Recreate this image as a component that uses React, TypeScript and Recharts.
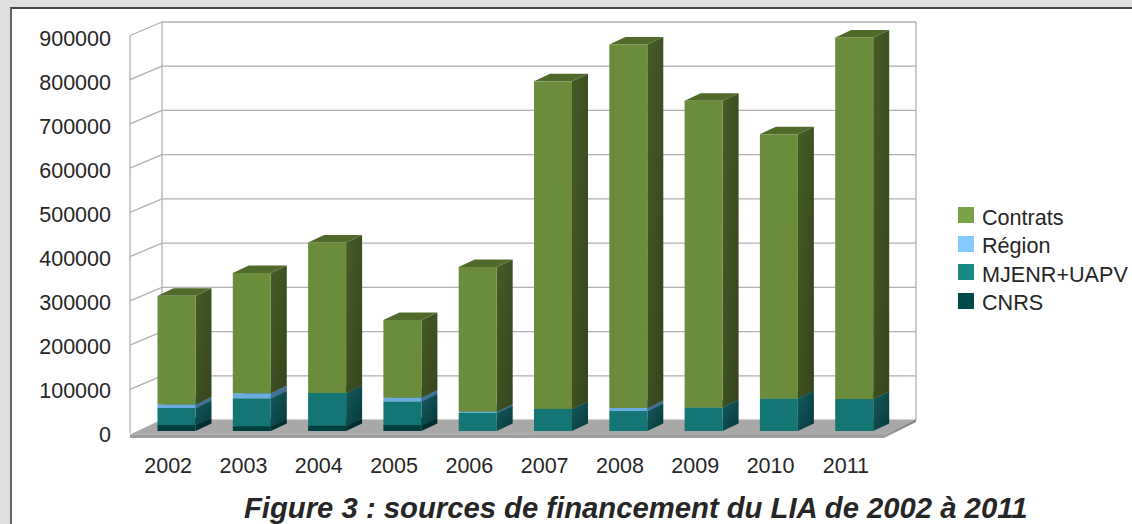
import React from "react";
import { BarChart, Bar, XAxis, YAxis, CartesianGrid } from "recharts";

const years = ["2002", "2003", "2004", "2005", "2006", "2007", "2008", "2009", "2010", "2011"];
const cnrs = [13500, 11000, 12000, 13500, 0, 0, 0, 0, 0, 0];
const mjenr = [38500, 63000, 74000, 53500, 40700, 50000, 45200, 53000, 73500, 72400];
const region = [8000, 11300, 0, 8300, 3000, 0, 6800, 0, 0, 0];
const contrats = [245600, 272000, 340500, 175700, 327300, 740700, 822000, 693700, 597500, 817600];
const yTicks = [0, 100000, 200000, 300000, 400000, 500000, 600000, 700000, 800000, 900000];
const title = "Figure 3 : sources de financement du LIA de 2002 à 2011";

const rows = years.map((year, i) => ({
  year,
  cnrs: cnrs[i],
  mjenr: mjenr[i],
  region: region[i],
  contrats: contrats[i],
}));

const FONT = "'Liberation Sans', Arial, sans-serif";
const TEXT = "#262626";
const GRID = "#b0b0b0";

const series = [
  { key: "cnrs", name: "CNRS", front: "#003f3f", top: "#002e2e", s1: "#023a3a", s2: "#002426", legend: "#004a4a" },
  { key: "mjenr", name: "MJENR+UAPV", front: "#147674", top: "#0f5a5a", s1: "#16595b", s2: "#053a3e", legend: "#178a88" },
  { key: "region", name: "Région", front: "#6bace0", top: "#5a8fbb", s1: "#4f7ea8", s2: "#365f85", legend: "#83caff" },
  { key: "contrats", name: "Contrats", front: "#6a8c3b", top: "#506a2c", s1: "#455c26", s2: "#35451c", legend: "#7aa346" },
];

// plane offsets between the bar plane and the box walls
const DEPTH_X = 16;
const DEPTH_Y = 7.5;
const WALL_LEFT = 130;
const WALL_BACK = 162;
const WALL_RIGHT = 916;
const FLOOR_FRONT_RIGHT = 884;

const gridLine = (p: any) => {
  const y = p.y1;
  const frontY = y + 2.5;
  const backY = y - 11;
  const isZero = p.index === 0 || Math.abs(y - 431) < 1;
  const isTop = y < 40;
  return (
    <g key={`wall-${y}`}>
      {!isZero && <line x1={WALL_LEFT} y1={frontY} x2={WALL_BACK} y2={backY} stroke={GRID} strokeWidth={1.3} />}
      {!isZero && <line x1={WALL_BACK} y1={backY} x2={WALL_RIGHT} y2={backY} stroke={GRID} strokeWidth={1.3} />}
      {isTop && <line x1={WALL_LEFT} y1={frontY} x2={WALL_LEFT} y2={frontY + 398} stroke={GRID} strokeWidth={1.3} />}
      {isTop && <line x1={WALL_BACK} y1={backY} x2={WALL_BACK} y2={backY + 398} stroke={GRID} strokeWidth={1.3} />}
      {isTop && <line x1={WALL_RIGHT} y1={backY} x2={WALL_RIGHT} y2={backY + 398} stroke={GRID} strokeWidth={1.3} />}
      {isZero && (
        <g>
          <polygon
            points={`${WALL_LEFT},${y + 3.5} ${WALL_BACK},${y - 11.5} ${WALL_RIGHT},${y - 11.5} ${FLOOR_FRONT_RIGHT},${y + 4}`}
            fill="#a8a8a8"
          />
          <polygon
            points={`${WALL_LEFT},${y + 3.5} ${FLOOR_FRONT_RIGHT},${y + 4} ${WALL_RIGHT},${y - 11.5} ${WALL_RIGHT},${y - 9} ${FLOOR_FRONT_RIGHT},${y + 7} ${WALL_LEFT},${y + 7}`}
            fill="url(#floorEdge)"
          />
        </g>
      )}
    </g>
  );
};

const box = (s: (typeof series)[number]) => (p: any) => {
  const { x, y, width, height } = p;
  if (!height || height <= 0) return <g />;
  const r = x + width;
  const b = y + height;
  return (
    <g>
      <polygon
        points={`${r},${y} ${r + DEPTH_X},${y - DEPTH_Y} ${r + DEPTH_X},${b - DEPTH_Y} ${r},${b}`}
        fill={`url(#side-${s.key})`}
      />
      <polygon
        points={`${x},${y} ${x + DEPTH_X},${y - DEPTH_Y} ${r + DEPTH_X},${y - DEPTH_Y} ${r},${y}`}
        fill={s.top}
      />
      <rect x={x} y={y} width={width} height={height} fill={s.front} />
    </g>
  );
};

const YTick = (p: any) => (
  <text
    x={111}
    y={p.y + 4 + ((431 - p.y) * 2) / 398}
    textAnchor="end"
    dominantBaseline="central"
    fontFamily={FONT}
    fontSize={21.5}
    fill={TEXT}
  >
    {p.payload.value}
  </text>
);

const XTick = (p: any) => (
  <text x={p.x - 8} y={466} textAnchor="middle" dominantBaseline="central" fontFamily={FONT} fontSize={21.5} fill={TEXT}>
    {p.payload.value}
  </text>
);

export default function App() {
  return (
    <div style={{ position: "absolute", left: 0, top: 0, width: 1132, height: 524, overflow: "hidden", background: "#dfdfdf" }}>
      <div
        style={{
          position: "absolute",
          left: 10,
          top: 7,
          width: 1122,
          height: 517,
          boxSizing: "border-box",
          background: "#fff",
          borderLeft: "2px solid #666",
          borderTop: "2px solid #444",
        }}
      />
      <div style={{ position: "absolute", left: 0, top: 0 }}>
        <BarChart
          width={1132}
          height={524}
          data={rows}
          margin={{ top: 33, right: 240.5, bottom: 0, left: 0 }}
          barSize={38}
          style={{ background: "transparent" }}
        >
          <defs>
            {series.map((s) => (
              <linearGradient key={s.key} id={`side-${s.key}`} x1="0" y1="0" x2="1" y2="1">
                <stop offset="0%" stopColor={s.s1} />
                <stop offset="100%" stopColor={s.s2} />
              </linearGradient>
            ))}
            <linearGradient id="floorEdge" x1="0" y1="0" x2="0" y2="1">
              <stop offset="0%" stopColor="#7a7a7a" />
              <stop offset="100%" stopColor="#a0a0a0" />
            </linearGradient>
          </defs>
          <CartesianGrid horizontal={gridLine} vertical={false} />
          <XAxis dataKey="year" height={93} axisLine={false} tickLine={false} tick={<XTick />} interval={0} />
          <YAxis
            width={138.5}
            domain={[0, 900000]}
            ticks={yTicks}
            axisLine={false}
            tickLine={false}
            tick={<YTick />}
            interval={0}
          />
          {series.map((s) => (
            <Bar key={s.key} dataKey={s.key} name={s.name} stackId="a" shape={box(s)} isAnimationActive={false} />
          ))}
        </BarChart>
      </div>
      <div style={{ position: "absolute", left: 958, top: 203, fontFamily: FONT, fontSize: 21.6, color: TEXT }}>
        {[...series].reverse().map((s) => (
          <div key={s.key} style={{ position: "relative", height: 28.6, lineHeight: "28.6px", whiteSpace: "nowrap" }}>
            <span style={{ position: "absolute", left: 0, top: 4, width: 16, height: 16, background: s.legend }} />
            <span style={{ position: "absolute", left: 24, top: 0.5 }}>{s.name}</span>
          </div>
        ))}
      </div>
      <div
        style={{
          position: "absolute",
          left: 244,
          top: 491,
          whiteSpace: "nowrap",
          fontFamily: FONT,
          fontWeight: "bold",
          fontStyle: "italic",
          fontSize: 29.26,
          lineHeight: "34px",
          color: TEXT,
        }}
      >
        {title}
      </div>
    </div>
  );
}
